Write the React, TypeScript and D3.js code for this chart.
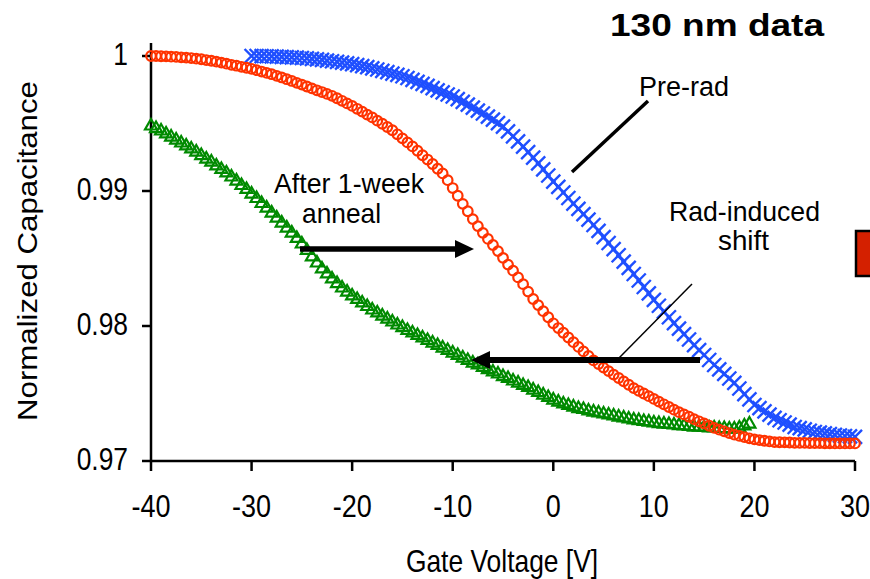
import React from "react";
import * as d3 from "d3";

// Gate voltage sweeps (V), 0.5 V step
const preradVoltages = d3.range(-30, 30.5, 0.5);
const annealVoltages = d3.range(-40, 30.5, 0.5);
const postradVoltages = d3.range(-40, 20, 0.5);

// Pre-rad (blue x)
const preradValues = [
  1.0, 1.0, 0.99999, 0.99998, 0.99997, 0.99995, 0.99994, 0.99992, 0.9999, 0.99988,
  0.99985, 0.99982, 0.99979, 0.99975, 0.99971, 0.99966, 0.99961, 0.99956, 0.99951, 0.99946,
  0.9994, 0.99933, 0.99925, 0.99917, 0.99909, 0.999, 0.9989, 0.9988, 0.9987, 0.9986,
  0.9985, 0.99837, 0.99823, 0.99808, 0.99793, 0.99778, 0.99762, 0.99746, 0.9973, 0.99715,
  0.997, 0.9968, 0.9966, 0.9964, 0.99618, 0.99596, 0.99574, 0.99551, 0.99528, 0.99503,
  0.99477, 0.99442, 0.99405, 0.99367, 0.99328, 0.99288, 0.99247, 0.99204, 0.9916, 0.99115,
  0.9907, 0.9903, 0.98989, 0.98948, 0.98907, 0.98867, 0.98828, 0.98788, 0.98748, 0.98704,
  0.98659, 0.98615, 0.9857, 0.98524, 0.98477, 0.98431, 0.98385, 0.98337, 0.98289, 0.98241,
  0.98193, 0.9815, 0.98107, 0.98065, 0.98022, 0.97981, 0.9794, 0.979, 0.97859, 0.97822,
  0.97785, 0.97748, 0.97711, 0.97678, 0.97645, 0.97611, 0.97578, 0.97537, 0.97496, 0.97456,
  0.97415, 0.97391, 0.97367, 0.97343, 0.97319, 0.97302, 0.97285, 0.97269, 0.97252, 0.97243,
  0.97234, 0.97224, 0.97215, 0.9721, 0.97204, 0.97199, 0.97193, 0.97189, 0.97185, 0.97182,
  0.97178,
];

// After 1-week anneal (red circles)
const annealValues = [
  1.0, 1.0, 0.99998, 0.99997, 0.99995, 0.99993, 0.9999, 0.99988, 0.99985, 0.9998,
  0.99976, 0.9997, 0.99965, 0.99958, 0.99951, 0.99943, 0.99935, 0.99928, 0.9992, 0.99913,
  0.99905, 0.99895, 0.99885, 0.99875, 0.99865, 0.99853, 0.99841, 0.99828, 0.99815, 0.99801,
  0.99788, 0.99774, 0.9976, 0.99746, 0.99733, 0.99719, 0.99705, 0.99687, 0.99668, 0.99649,
  0.9963, 0.99609, 0.99588, 0.99566, 0.99545, 0.99521, 0.99498, 0.99474, 0.9945, 0.9942,
  0.9939, 0.9936, 0.9933, 0.99298, 0.99265, 0.99233, 0.992, 0.99165, 0.9913, 0.9908,
  0.99022, 0.98965, 0.98905, 0.9885, 0.98792, 0.9874, 0.9869, 0.98645, 0.986, 0.98555,
  0.98505, 0.98455, 0.9841, 0.9836, 0.9831, 0.98255, 0.982, 0.98155, 0.9811, 0.98065,
  0.9802, 0.97985, 0.9795, 0.97915, 0.9788, 0.97845, 0.97812, 0.97778, 0.97745, 0.97718,
  0.97692, 0.97666, 0.9764, 0.97615, 0.9759, 0.97565, 0.9754, 0.9752, 0.975, 0.9748,
  0.9746, 0.9744, 0.9742, 0.974, 0.9738, 0.97362, 0.97345, 0.97328, 0.9731, 0.97294,
  0.97278, 0.97261, 0.97245, 0.97232, 0.9722, 0.97207, 0.97195, 0.97186, 0.97177, 0.97168,
  0.9716, 0.97155, 0.9715, 0.97145, 0.9714, 0.97139, 0.97138, 0.97137, 0.97135, 0.97134,
  0.97134, 0.97133, 0.97132, 0.97132, 0.97131, 0.97131, 0.9713, 0.9713, 0.9713, 0.9713,
  0.9713,
];

// Post-rad (green triangles)
const postradValues = [
  0.99489, 0.9947, 0.99452, 0.9943, 0.99407, 0.99385, 0.99363, 0.99341, 0.99319, 0.99296,
  0.9927, 0.99244, 0.99222, 0.99193, 0.99167, 0.99141, 0.99111, 0.99081, 0.99048, 0.99019,
  0.98985, 0.98952, 0.98915, 0.98881, 0.98844, 0.98807, 0.9877, 0.98733, 0.98696, 0.98656,
  0.98615, 0.98567, 0.98519, 0.98474, 0.9843, 0.98393, 0.98356, 0.98322, 0.98289, 0.98259,
  0.9823, 0.98204, 0.98178, 0.98152, 0.98126, 0.98104, 0.98081, 0.98059, 0.98037, 0.98015,
  0.97996, 0.97974, 0.97956, 0.97937, 0.97919, 0.979, 0.97881, 0.97863, 0.97844, 0.97826,
  0.97807, 0.97789, 0.9777, 0.97752, 0.97733, 0.97719, 0.977, 0.97685, 0.97667, 0.97652,
  0.97633, 0.97619, 0.976, 0.97585, 0.97567, 0.97552, 0.97533, 0.97515, 0.97496, 0.97478,
  0.97459, 0.97444, 0.9743, 0.97419, 0.97407, 0.97396, 0.97389, 0.97378, 0.9737, 0.97363,
  0.97356, 0.97348, 0.97341, 0.97333, 0.97326, 0.97319, 0.97311, 0.97307, 0.973, 0.97296,
  0.97289, 0.97285, 0.97281, 0.97278, 0.97274, 0.9727, 0.97267, 0.97263, 0.97259, 0.97259,
  0.97256, 0.97252, 0.97252, 0.97248, 0.97248, 0.97244, 0.97244, 0.97252, 0.97267, 0.97281,
];

const xTicks = [-40, -30, -20, -10, 0, 10, 20, 30];
const yTicks = [0.97, 0.98, 0.99, 1];
const yTickLabels = ["0.97", "0.98", "0.99", "1"];

const W = 870;
const H = 579;
const FONT = "'Liberation Sans', Arial, sans-serif";

export default function App() {
  const x = d3.scaleLinear().domain([-40, 30]).range([151, 855]);
  const y = d3.scaleLinear().domain([0.97, 1]).range([461, 56]);

  const blue = preradVoltages.map((v, i) => [x(v), y(preradValues[i])]);
  const red = annealVoltages.map((v, i) => [x(v), y(annealValues[i])]);
  const green = postradVoltages.map((v, i) => [x(v), y(postradValues[i])]);

  const blueC = "#1f4fff";
  const redC = "#ff3300";
  const greenC = "#008a00";

  return (
    <svg
      width={W}
      height={H}
      style={{ position: "absolute", left: 0, top: 0, background: "#fff" }}
      fontFamily={FONT}
    >
      <rect x={0} y={0} width={W} height={H} fill="#fff" />

      {/* axes */}
      <line x1={x(-40)} y1={43} x2={x(-40)} y2={y(0.97)} stroke="#000" strokeWidth={2.5} />
      <line x1={x(-40)} y1={y(0.97)} x2={x(30)} y2={y(0.97)} stroke="#000" strokeWidth={2.5} />
      {yTicks.map((t, i) => (
        <g key={"yt" + t}>
          <line x1={x(-40) - 9} x2={x(-40)} y1={y(t)} y2={y(t)} stroke="#000" strokeWidth={2.5} />
          <text
            transform={`translate(${x(-40) - 23},${y(t) + 8.5}) scale(0.88,1.05)`}
            textAnchor="end"
            fontSize={30}
            fill="#000"
          >
            {yTickLabels[i]}
          </text>
        </g>
      ))}
      {xTicks.map((t) => (
        <g key={"xt" + t}>
          <line x1={x(t)} x2={x(t)} y1={y(0.97)} y2={y(0.97) + 10} stroke="#000" strokeWidth={2.5} />
          <text
            transform={`translate(${x(t)},${517}) scale(0.9,1.03)`}
            textAnchor="middle"
            fontSize={30}
            fill="#000"
          >
            {t}
          </text>
        </g>
      ))}

      {/* axis titles */}
      <text
        transform={`translate(${502},${572}) scale(0.88,1.03)`}
        textAnchor="middle"
        fontSize={30}
      >
        Gate Voltage [V]
      </text>
      <text
        transform={`translate(${37},${251}) rotate(-90) scale(1.04,0.95)`}
        textAnchor="middle"
        fontSize={30}
      >
        Normalized Capacitance
      </text>

      {/* series */}
      <g fill="none" stroke={blueC} strokeWidth={2.4}>
        {blue.map(([px, py], i) => (
          <path key={"b" + i} d={`M${px - 7},${py - 7}L${px + 7},${py + 7}M${px - 7},${py + 7}L${px + 7},${py - 7}`} />
        ))}
      </g>
      <g fill="none" stroke={greenC} strokeWidth={2.2}>
        {green.map(([px, py], i) => (
          <path key={"g" + i} d={`M${px},${py - 6}L${px + 6},${py + 4.5}L${px - 6},${py + 4.5}Z`} />
        ))}
      </g>
      <g fill="none" stroke={redC} strokeWidth={2.2}>
        {red.map(([px, py], i) => (
          <circle key={"r" + i} cx={px} cy={py} r={4.8} />
        ))}
      </g>

      {/* annotations */}
      <text x={610} y={36} fontSize={32} fontWeight="bold" textLength={214} lengthAdjust="spacingAndGlyphs">
        130 nm data
      </text>
      <text x={639} y={96} fontSize={27} textLength={90} lengthAdjust="spacingAndGlyphs">
        Pre-rad
      </text>
      <line x1={572} y1={172} x2={648} y2={101} stroke="#000" strokeWidth={3.5} />

      <text x={274} y={193} fontSize={28} textLength={150} lengthAdjust="spacingAndGlyphs">
        After 1-week
      </text>
      <text x={302} y={223} fontSize={28} textLength={79} lengthAdjust="spacingAndGlyphs">
        anneal
      </text>
      <line x1={300} y1={249} x2={460} y2={249} stroke="#000" strokeWidth={5.5} />
      <path d="M474,249L455,240L455,258Z" fill="#000" />

      <text x={669} y={221} fontSize={28} textLength={151} lengthAdjust="spacingAndGlyphs">
        Rad-induced
      </text>
      <text x={718} y={250} fontSize={28} textLength={51} lengthAdjust="spacingAndGlyphs">
        shift
      </text>
      <line x1={619} y1={358} x2={692} y2={284} stroke="#000" strokeWidth={1.5} />
      <line x1={700} y1={360} x2={485} y2={360} stroke="#000" strokeWidth={6} />
      <path d="M471,360L490,351L490,369Z" fill="#000" />

      {/* clipped legend swatch */}
      <rect x={856} y={231} width={30} height={45} fill="#d42000" stroke="#000" strokeWidth={2.5} />
    </svg>
  );
}
